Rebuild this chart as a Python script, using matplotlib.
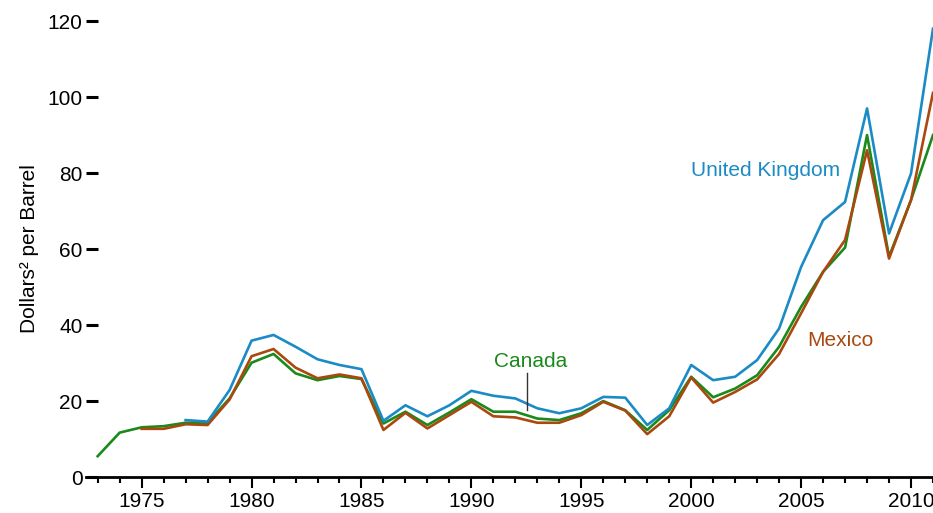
import matplotlib

matplotlib.use("Agg")
import matplotlib.pyplot as plt
from matplotlib.ticker import MultipleLocator

plt.rcParams["font.family"] = ["Liberation Sans", "DejaVu Sans"]

years = list(range(1973, 2012))

canada = [5.5, 11.7, 13.1, 13.4, 14.3, 14.3, 20.7, 30.1, 32.4, 27.3,
          25.5, 26.6, 25.8, 14.1, 17.2, 13.7, 17.0, 20.5, 17.2, 17.2,
          15.4, 15.0, 16.8, 20.0, 17.6, 12.4, 17.6, 26.4, 21.0, 23.3,
          26.8, 34.3, 44.8, 54.0, 60.4, 90.0, 58.0, 72.9, 90.0]
mexico = [None, None, 12.7, 12.7, 13.9, 13.7, 20.4, 31.8, 33.7, 28.8,
          26.0, 27.0, 26.0, 12.4, 16.9, 12.8, 16.3, 19.8, 16.0, 15.7,
          14.3, 14.3, 16.3, 19.8, 17.5, 11.3, 16.0, 26.2, 19.6, 22.4,
          25.7, 32.4, 43.1, 54.0, 62.4, 86.0, 57.5, 72.9, 101.1]
uk = [None, None, None, None, 15.0, 14.6, 22.9, 35.9, 37.4, 34.3,
      31.0, 29.5, 28.4, 14.8, 18.9, 16.0, 18.9, 22.7, 21.4, 20.7,
      18.1, 16.8, 18.1, 21.1, 20.9, 13.7, 18.1, 29.5, 25.5, 26.4,
      30.8, 39.1, 55.3, 67.6, 72.4, 97.0, 64.1, 79.9, 118.0]

# drawn bottom to top
series = [
    ("Canada", canada, "#1a8a1a"),
    ("Mexico", mexico, "#a9490f"),
    ("United Kingdom", uk, "#1b8bc6"),
]

fig = plt.figure(figsize=(9.33, 5.13), dpi=100)
ax = fig.add_axes([0.1047, 0.07, 0.8953, 0.889])

for name, vals, col in series:
    xs = [y for y, v in zip(years, vals) if v is not None]
    ys = [v for v in vals if v is not None]
    ax.plot(xs, ys, color=col, lw=1.9, clip_on=False)

ax.set_xlim(1973, 2011)
ax.set_ylim(0, 120)
ax.xaxis.set_major_locator(MultipleLocator(5))
ax.xaxis.set_minor_locator(MultipleLocator(1))
ax.yaxis.set_major_locator(MultipleLocator(20))

for s in ["top", "right", "left"]:
    ax.spines[s].set_visible(False)
ax.spines["bottom"].set_linewidth(2)
ax.spines["bottom"].set_bounds(1972.45, 2011)

ax.tick_params(axis="y", length=9, width=2.2, labelsize=15, pad=2)
ax.tick_params(axis="x", which="major", length=8, width=1.5, labelsize=15, pad=3)
ax.tick_params(axis="x", which="minor", length=4.5, width=1.5)
ax.set_ylabel("Dollars² per Barrel", fontsize=15, labelpad=6)

ax.text(1992.7, 30.3, "Canada", color="#1a8a1a", fontsize=15, ha="center", va="center")
ax.plot([1992.55, 1992.55], [17.6, 27.4], color="#333333", lw=1)
ax.text(2000.0, 80.8, "United Kingdom", color="#1b8bc6", fontsize=15, ha="left", va="center")
ax.text(2005.3, 36, "Mexico", color="#a9490f", fontsize=15, ha="left", va="center")

fig.savefig("out.png", dpi=100)
